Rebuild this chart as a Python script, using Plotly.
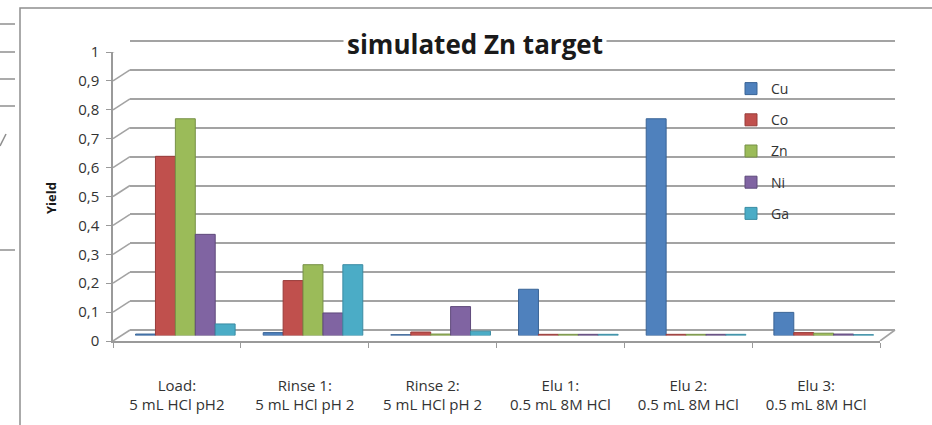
import plotly.graph_objects as go

categories = ["Load:<br>5 mL HCl pH2", "Rinse 1:<br>5 mL HCl pH 2", "Rinse 2:<br>5 mL HCl pH 2",
              "Elu 1:<br>0.5 mL 8M HCl", "Elu 2:<br>0.5 mL 8M HCl", "Elu 3:<br>0.5 mL 8M HCl"]
series_names = ["Cu", "Co", "Zn", "Ni", "Ga"]
cu = [0.005, 0.01, 0.003, 0.16, 0.75, 0.08]
co = [0.62, 0.19, 0.012, 0.004, 0.004, 0.01]
zn = [0.75, 0.245, 0.005, 0.004, 0.004, 0.008]
ni = [0.35, 0.078, 0.10, 0.004, 0.004, 0.005]
ga = [0.04, 0.245, 0.015, 0.004, 0.004, 0.003]
y_ticks = [0, 0.1, 0.2, 0.3, 0.4, 0.5, 0.6, 0.7, 0.8, 0.9, 1]

colors = ["#4F81BD", "#C0504D", "#9BBB59", "#8064A2", "#4BACC6"]
edges = ["#3A6496", "#983C3A", "#779147", "#5F4A7B", "#3A8CA3"]

W, H = 932, 425
def px(x): return x / W
def py(y): return (H - y) / H

FONT = "Open Sans"
GRID = "#a3a3a3"
PAD = 0.02

fig = go.Figure()
fig.add_trace(go.Scatter(x=categories, y=[None] * 6, mode="markers", showlegend=False,
                         hoverinfo="skip", xaxis="x", yaxis="y"))
fig.add_trace(go.Scatter(x=categories, y=[None] * 6, mode="markers", showlegend=False,
                         hoverinfo="skip", xaxis="x2", yaxis="y2"))
for name, vals, c, e in zip(series_names, [cu, co, zn, ni, ga], colors, edges):
    fig.add_trace(go.Bar(x=categories, y=vals, name=name, legendgroup=name,
                         marker=dict(color=c, line=dict(color=e, width=1)),
                         xaxis="x3", yaxis="y3"))

front_x = [113, 880]
back_x = [130, 895]
mid_x = [121.5, 887.5]
front_y = [341, 52]
back_y = [330, 41]
mid_y = [335.5, 46.5]
unit = back_y[0] - back_y[1]

fig.update_layout(
    width=W, height=H, margin=dict(l=0, r=0, t=0, b=0, autoexpand=False),
    paper_bgcolor="white", plot_bgcolor="rgba(0,0,0,0)",
    separators=", ",
    barmode="group", bargap=0.22, bargroupgap=0,
    font=dict(family=FONT, size=13, color="#333333"),
    xaxis=dict(domain=[px(front_x[0]), px(front_x[1])], anchor="y", type="category",
               range=[-0.5, 5.5], showgrid=False, showline=True, linecolor="#9a9a9a", linewidth=1.5,
               ticks="outside", tickson="boundaries", ticklen=5, tickcolor="#9a9a9a",
               tickfont=dict(size=15, color="#333333"), ticklabelstandoff=30, fixedrange=True),
    yaxis=dict(domain=[py(front_y[0]), py(front_y[1])], anchor="x", range=[0, 1],
               tickvals=y_ticks, showgrid=False, zeroline=False, showline=True,
               linecolor="#9a9a9a", linewidth=1.5, ticks="outside", ticklen=5, tickcolor="#9a9a9a",
               tickfont=dict(size=15, color="#333333"), ticklabelstandoff=4, fixedrange=True),
    xaxis2=dict(domain=[px(back_x[0]), px(back_x[1])], anchor="y2", type="category",
                range=[-0.5, 5.5], showgrid=False, showticklabels=False, showline=False),
    yaxis2=dict(domain=[py(back_y[0] + PAD * unit), py(back_y[1] - PAD * unit)], anchor="x2",
                range=[-PAD, 1 + PAD],
                tickvals=y_ticks, showgrid=True, gridcolor=GRID, gridwidth=1.6,
                zeroline=False, showticklabels=False, showline=False),
    xaxis3=dict(domain=[px(mid_x[0]), px(mid_x[1])], anchor="y3", type="category",
                range=[-0.5, 5.5], showgrid=False, showticklabels=False, showline=False),
    yaxis3=dict(domain=[py(mid_y[0]), py(mid_y[1])], anchor="x3", range=[0, 1],
                showgrid=False, zeroline=False, showticklabels=False, showline=False),
    legend=dict(x=px(731), y=py(73), xanchor="left", yanchor="top", bgcolor="rgba(0,0,0,0)",
                traceorder="grouped", tracegroupgap=10, font=dict(size=14, color="#333333"),
                itemwidth=30),
    showlegend=True,
)

shapes = []
for v in y_ticks:
    shapes.append(dict(type="line", xref="paper", x0=px(front_x[0]), x1=px(back_x[0]),
                       yref="y", ysizemode="pixel", yanchor=v, y0=0, y1=front_y[0] - back_y[0],
                       line=dict(color=GRID, width=1.6), layer="below"))
shapes.append(dict(type="line", xref="paper", x0=px(front_x[1]), x1=px(back_x[1]),
                   yref="y", ysizemode="pixel", yanchor=0, y0=0, y1=front_y[0] - back_y[0],
                   line=dict(color=GRID, width=1.6), layer="below"))
shapes.append(dict(type="rect", xref="paper", yref="paper", x0=px(20), x1=1.05, y0=-0.05, y1=py(8),
                   line=dict(color="#8f8f8f", width=1.5), fillcolor="rgba(0,0,0,0)", layer="below"))
for yy in [24, 52, 79, 106, 250]:
    shapes.append(dict(type="line", xref="paper", yref="paper", x0=0, x1=px(15), y0=py(yy), y1=py(yy),
                       line=dict(color="#8f8f8f", width=1.5)))
shapes.append(dict(type="line", xref="paper", yref="paper", x0=0, x1=px(6), y0=py(146), y1=py(134),
                   line=dict(color="#8f8f8f", width=1.5)))
fig.update_layout(shapes=shapes)

fig.add_annotation(text="<b>simulated Zn target</b>", xref="paper", yref="paper",
                   x=px(475), y=py(44), xanchor="center", yanchor="middle", showarrow=False,
                   bgcolor="white", borderpad=3,
                   font=dict(size=26, color="#1a1a1a", family=FONT))
fig.add_annotation(text="<b>Yield</b>", xref="paper", yref="paper", x=px(51), y=py(198),
                   xanchor="center", yanchor="middle",
                   textangle=-90, showarrow=False, font=dict(size=13, color="#1a1a1a", family=FONT))

fig.write_html("out.html")
